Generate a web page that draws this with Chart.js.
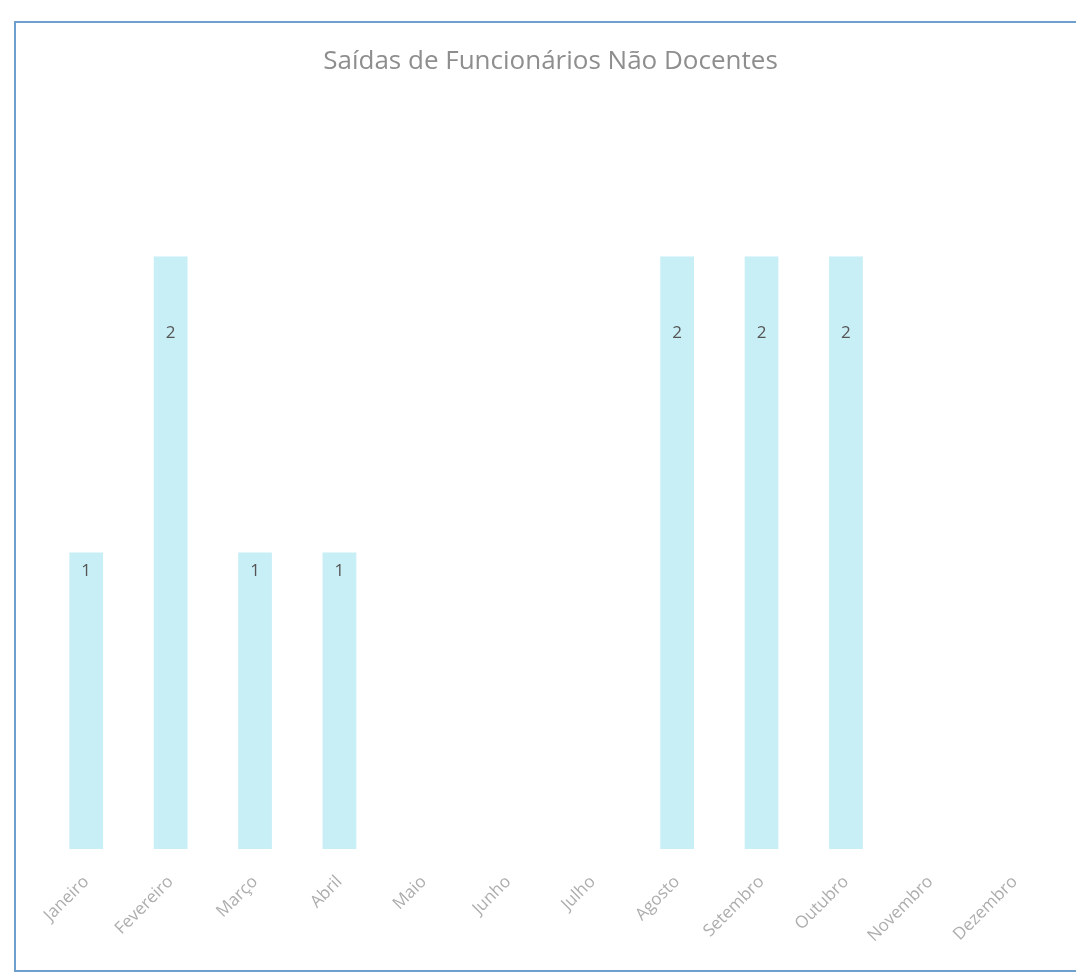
<!DOCTYPE html>
<html>
<head>
    <meta charset="utf-8" />
    <title>Saídas de Funcionários Não Docentes</title>
    <script src="https://cdn.jsdelivr.net/npm/chart.js"></script>
    <style>
        body { margin: 0; background: #fff; }
        #wrap { position: absolute; left: 0; top: 0; width: 1076px; height: 974px; }
        #moldura { position: absolute; left: 14px; top: 21px; width: 1070px; height: 947px;
                   border: 2px solid #6f9fcc; border-right: none; pointer-events: none; }
    </style>
</head>
<body>
    <div id="wrap">
        <canvas id="grafico"></canvas>
    </div>
    <div id="moldura"></div>

    <script>
        // dados
        const meses = ['Janeiro', 'Fevereiro', 'Março', 'Abril', 'Maio', 'Junho',
                       'Julho', 'Agosto', 'Setembro', 'Outubro', 'Novembro', 'Dezembro'];
        const saidas = [1, 2, 1, 1, null, null, null, 2, 2, 2, null, null];
        const titulo = 'Saídas de Funcionários Não Docentes';

        // rotulos de valor dentro das barras
        const rotulos = {
            id: 'rotulos',
            afterDatasetsDraw(chart) {
                const ctx = chart.ctx;
                const meta = chart.getDatasetMeta(0);
                ctx.save();
                ctx.fillStyle = '#555';
                ctx.font = '17px "Open Sans"';
                ctx.textAlign = 'center';
                ctx.textBaseline = 'middle';
                meta.data.forEach(function (barra, i) {
                    const v = saidas[i];
                    if (v == null) return;
                    const desloc = v > 1 ? 77 : 19;
                    ctx.fillText(v, barra.x, barra.y + desloc);
                });
                ctx.restore();
            }
        };

        const config = {
            type: 'bar',
            data: {
                labels: meses,
                datasets: [{
                    label: 'Saídas',
                    data: saidas,
                    backgroundColor: '#c8eff6',
                    barPercentage: 0.4,
                    categoryPercentage: 1
                }]
            },
            options: {
                responsive: true,
                maintainAspectRatio: false,
                animation: false,
                layout: { padding: { left: 44, right: 19, top: 0, bottom: 13 } },
                plugins: {
                    legend: { display: false },
                    tooltip: { enabled: false },
                    title: {
                        display: true,
                        text: titulo,
                        color: '#8e8e8e',
                        font: { family: 'Open Sans', size: 26, weight: 'normal' },
                        padding: { top: 46, bottom: 179 }
                    }
                },
                scales: {
                    x: {
                        grid: { display: false },
                        border: { display: false },
                        ticks: {
                            color: '#adadad',
                            font: { family: 'Open Sans', size: 17 },
                            minRotation: 45,
                            maxRotation: 45,
                            padding: 15
                        }
                    },
                    y: {
                        display: false,
                        min: 0,
                        max: 2
                    }
                }
            },
            plugins: [rotulos]
        };

        new Chart(document.getElementById('grafico'), config);
    </script>
</body>
</html>
